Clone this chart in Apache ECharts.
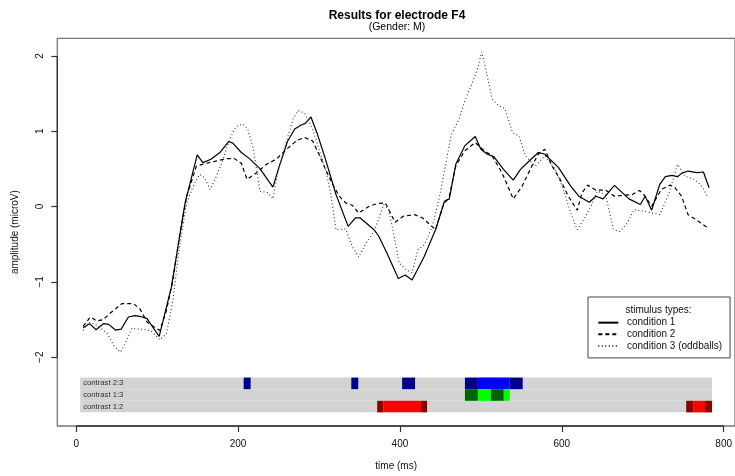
<!DOCTYPE html>
<html><head><meta charset="utf-8">
<script src="https://cdn.jsdelivr.net/npm/echarts@6/dist/echarts.min.js"></script>
<style>html,body{margin:0;padding:0;background:#fff}#c{width:735px;height:476px}</style>
</head><body><div id="c"></div>
<script>
const xTicks = [0, 200, 400, 600, 800];
const yTicks = [-2, -1, 0, 1, 2];
const seriesNames = ['condition 1', 'condition 2', 'condition 3 (oddballs)'];

const cond1 = [[8.5,-1.61],[16.5,-1.555],[24.5,-1.635],[33.5,-1.555],[40,-1.564],[48.5,-1.64],[55.5,-1.627],[64.5,-1.466],[72.5,-1.448],[78.5,-1.457],[87.5,-1.488],[102.5,-1.725],[117.5,-1.074],[134.5,0.049],[149.5,0.686],[156.5,0.584],[166.5,0.628],[177.5,0.718],[188.5,0.865],[193.5,0.843],[204,0.718],[214,0.637],[227,0.504],[243,0.258],[251,0.539],[261,0.865],[270,1.03],[278,1.083],[283,1.105],[290,1.19],[298,0.963],[308,0.628],[321,0.16],[336,-0.263],[345,-0.151],[351,-0.151],[368,-0.307],[374,-0.397],[384,-0.619],[398,-0.954],[406.5,-0.909],[415,-0.976],[430,-0.664],[444,-0.307],[455,0.071],[461,0.102],[469,0.561],[480,0.806],[493,0.931],[500,0.762],[508,0.695],[516,0.664],[528,0.495],[540,0.352],[549,0.495],[561,0.619],[571,0.718],[579,0.695],[596,0.517],[611,0.272],[621,0.138],[634,0.058],[642,0.138],[651,0.102],[665,0.281],[683,0.102],[697,0.027],[703,0.138],[711,-0.049],[721,0.294],[728,0.397],[736,0.415],[743,0.397],[748,0.441],[756,0.472],[767,0.45],[775,0.459],[782,0.25]];

const cond2 = [[8.5,-1.591],[17.5,-1.466],[25.5,-1.52],[33.5,-1.5],[41.5,-1.42],[56.5,-1.288],[70.5,-1.288],[78.5,-1.355],[87.5,-1.533],[97.5,-1.609],[103.5,-1.644],[111.5,-1.377],[119.5,-0.976],[127.5,-0.397],[136.5,0.138],[148.5,0.539],[160.5,0.575],[173.5,0.606],[185.5,0.637],[195.5,0.637],[204,0.575],[211,0.361],[223,0.45],[235,0.561],[247,0.628],[260,0.762],[272,0.873],[282,0.918],[292,0.873],[300,0.695],[309,0.472],[317,0.294],[325,0.138],[333,0.049],[341,0.018],[349,-0.085],[362,0.004],[372,0.04],[382,0.049],[394,-0.209],[404,-0.129],[418,-0.107],[428,-0.151],[444,-0.307],[453,0.004],[461,0.138],[469,0.539],[480,0.74],[493,0.851],[502,0.762],[514,0.673],[526,0.45],[540,0.102],[551,0.272],[563,0.539],[571,0.695],[579,0.762],[588,0.539],[598,0.361],[608,0.138],[619,-0.049],[625,0.183],[632,0.285],[642,0.218],[654,0.218],[665,0.138],[674,0.147],[687,0.16],[696,0.214],[703,0.138],[711,0.004],[723,0.227],[734,0.285],[740,0.25],[748,0.138],[756,-0.107],[766,-0.174],[779,-0.272]];

const cond3 = [[8.5,-1.644],[15.5,-1.533],[26,-1.578],[38.5,-1.689],[46.5,-1.845],[54.5,-1.934],[62.5,-1.778],[68.5,-1.618],[78.5,-1.627],[91.5,-1.644],[103.5,-1.769],[111.5,-1.689],[119.5,-1.243],[127.5,-0.53],[136.5,0.049],[144.5,0.272],[152.5,0.428],[158.5,0.383],[165.5,0.227],[173.5,0.41],[181.5,0.628],[189.5,0.896],[197.5,1.065],[206,1.096],[212,1.03],[219,0.762],[227,0.205],[237,0.183],[243,0.102],[249,0.45],[260,0.873],[268,1.163],[274,1.274],[282,1.243],[292,1.03],[300,0.762],[309,0.45],[315,0.138],[321,-0.307],[333,-0.298],[341,-0.53],[349,-0.673],[358,-0.486],[368,-0.33],[380,0.027],[386,-0.04],[392,-0.35],[399,-0.75],[408,-0.842],[415,-0.878],[422,-0.575],[430,-0.509],[440,-0.263],[449,0.138],[457,0.584],[463,0.94],[473,1.163],[481,1.43],[489,1.631],[496,1.83],[501,2.055],[506,1.83],[514,1.43],[522,1.341],[530,1.297],[539,0.985],[547,0.94],[555,0.673],[567,0.539],[579,0.673],[592,0.495],[602,0.227],[611,-0.085],[619,-0.307],[627,-0.174],[636,0.004],[644,0.205],[654,0.16],[664,-0.307],[672,-0.33],[681,-0.218],[689,-0.04],[703,-0.063],[721,-0.107],[732,0.16],[743,0.561],[752,0.405],[764,0.361],[773,0.272],[781,0.116]];

const contrastLabels = ['contrast 2:3', 'contrast 1:3', 'contrast 1:2'];
const bandRange = [4.9, 785.7];
const cells23 = [[206.9,215.5,'darkblue'],[339.9,348.5,'darkblue'],[402.7,418.7,'darkblue'],[480.3,496.3,'darkblue'],[496.3,535.7,'blue'],[535.7,551.7,'darkblue']];
const cells13 = [[480.3,496.3,'darkgreen'],[496.3,512.3,'green'],[512.3,528.3,'darkgreen'],[528.3,535.7,'green']];
const cells12 = [[371.9,379.3,'darkred'],[379.3,426.1,'red'],[426.1,433.5,'darkred'],[753.7,762.3,'darkred'],[762.3,777.1,'red'],[777.1,785.7,'darkred']];

const colorMap = {darkblue:'#00008B', blue:'#0000FF', darkgreen:'#006400', green:'#00FF00', darkred:'#8B0000', red:'#FF0000', gray:'#D3D3D3'};
const X_MIN = -23.4, X_MAX = 814, Y_MIN = -2.914, Y_MAX = 2.235;
const ROW_TOP = -2.271, ROW_H = 0.154;
const FONT = 'Liberation Sans, Arial, Helvetica, sans-serif';

const bandData = [];
contrastLabels.forEach((lab, r) => bandData.push([bandRange[0], bandRange[1], r, 'gray', lab]));
[cells23, cells13, cells12].forEach((cells, r) => cells.forEach(c => bandData.push([c[0], c[1], r, c[2], ''])));

const chart = echarts.init(document.getElementById('c'), null, {renderer: 'canvas'});
const minus = v => String(v).replace('-', '\u2212');

chart.setOption({
  animation: false,
  backgroundColor: '#fff',
  textStyle: {fontFamily: FONT},
  title: [
    {text: 'Results for electrode F4', left: 397, top: 10, textAlign: 'center', padding: 0,
     textStyle: {fontSize: 12, fontWeight: 'bold', color: '#000', lineHeight: 12, fontFamily: FONT}},
    {text: '(Gender: M)', left: 397, top: 21.5, textAlign: 'center', padding: 0,
     textStyle: {fontSize: 10.5, fontWeight: 'normal', color: '#000', lineHeight: 11, fontFamily: FONT}}
  ],
  grid: {left: 57.3, top: 38.3, width: 680, height: 388.2, show: true, borderColor: '#777', borderWidth: 1.3, containLabel: false},
  xAxis: {
    type: 'value', min: X_MIN, max: X_MAX,
    splitLine: {show: false},
    axisLine: {show: false, onZero: false},
    axisTick: {show: true, customValues: xTicks, length: 6, lineStyle: {color: '#333', width: 1.2}},
    axisLabel: {customValues: xTicks, fontSize: 10, color: '#111', margin: 13, fontFamily: FONT},
    name: 'time (ms)', nameLocation: 'middle', nameGap: 35,
    nameTextStyle: {fontSize: 10, color: '#111', fontFamily: FONT}
  },
  yAxis: {
    type: 'value', min: Y_MIN, max: Y_MAX,
    splitLine: {show: false},
    axisLine: {show: false, onZero: false},
    axisTick: {show: true, customValues: yTicks, length: 6, lineStyle: {color: '#333', width: 1.2}},
    axisLabel: {customValues: yTicks, fontSize: 10, color: '#111', margin: 12, rotate: 90, formatter: minus, fontFamily: FONT},
    name: 'amplitude (microV)', nameLocation: 'middle', nameGap: 37,
    nameTextStyle: {fontSize: 10, color: '#111', fontFamily: FONT}
  },
  legend: {
    orient: 'vertical', left: 588, top: 297, data: seriesNames,
    itemWidth: 20, itemHeight: 8, itemGap: 0,
    padding: [19.8, 8, 6, 9.3],
    borderColor: '#444', borderWidth: 1, selectedMode: false,
    itemStyle: {opacity: 0},
    textStyle: {fontSize: 10, lineHeight: 11.7, color: '#111', padding: [0, 0, 0, 3.7], fontFamily: FONT}
  },
  graphic: [
    {type: 'text', x: 658.5, y: 310, style: {text: 'stimulus types:', fontSize: 10, fill: '#111', textAlign: 'center', textVerticalAlign: 'middle', fontFamily: FONT}}
  ],
  series: [
    {
      type: 'custom', name: 'contrasts', silent: true, clip: false, z: 1,
      data: bandData.map(d => [d[0], d[1], d[2]]),
      encode: {x: [0, 1], y: 2},
      renderItem: (params, api) => {
        const d = bandData[params.dataIndex];
        const p1 = api.coord([d[0], ROW_TOP - d[2] * ROW_H]);
        const p2 = api.coord([d[1], ROW_TOP - (d[2] + 1) * ROW_H]);
        const children = [{
          type: 'rect',
          shape: {x: p1[0], y: p1[1], width: p2[0] - p1[0], height: p2[1] - p1[1]},
          style: {fill: colorMap[d[3]]}
        }];
        if (d[4]) {
          children.push({type: 'text', x: p1[0] + 3, y: (p1[1] + p2[1]) / 2,
            style: {text: d[4], fontSize: 7.7, fill: '#333', textAlign: 'left', textVerticalAlign: 'middle', fontFamily: FONT}});
        }
        return {type: 'group', children};
      }
    },
    {name: seriesNames[0], type: 'line', data: cond1, symbol: 'none', z: 3,
     lineStyle: {color: '#000', width: 1.2, type: 'solid'}, itemStyle: {color: '#000'}},
    {name: seriesNames[1], type: 'line', data: cond2, symbol: 'none', z: 3,
     lineStyle: {color: '#000', width: 1.2, type: [4, 3]}, itemStyle: {color: '#000'}},
    {name: seriesNames[2], type: 'line', data: cond3, symbol: 'none', z: 3,
     lineStyle: {color: '#333', width: 1.1, type: [1, 2.5]}, itemStyle: {color: '#333'}},
    {name: 'xaxisline', type: 'line', data: [[xTicks[0], Y_MIN], [xTicks[xTicks.length - 1], Y_MIN]], symbol: 'none', silent: true, clip: false, z: 5,
     lineStyle: {color: '#333', width: 1.3}},
    {name: 'yaxisline', type: 'line', data: [[X_MIN, yTicks[0]], [X_MIN, yTicks[yTicks.length - 1]]], symbol: 'none', silent: true, clip: false, z: 5,
     lineStyle: {color: '#333', width: 1.3}}
  ]
});
</script>
</body></html>
